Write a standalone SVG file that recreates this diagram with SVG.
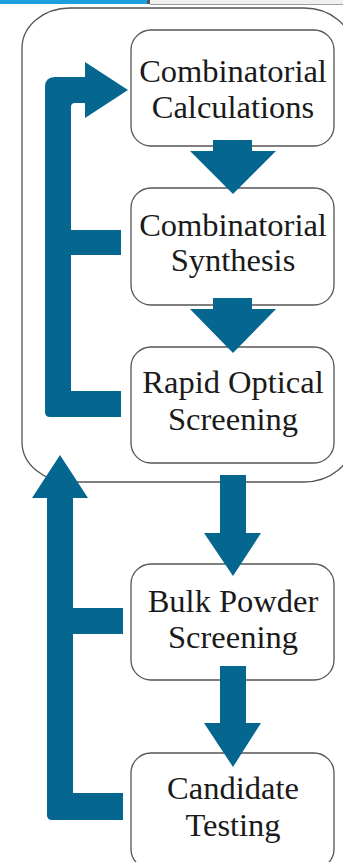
<svg xmlns="http://www.w3.org/2000/svg" width="343" height="862" viewBox="0 0 343 862">
<style>
.node rect{fill:#fff;stroke:#555;stroke-width:1.3}
.node text{font-family:"Liberation Serif","Times New Roman",serif;font-size:32.5px;fill:#1a1a1a;text-anchor:middle}
.conn path{fill:#05668f;stroke:none}
</style>
<rect x="0" y="0" width="343" height="862" fill="#fff"/>
<g id="topbar">
<rect x="0" y="0" width="148" height="4" fill="#1a9fdf"/>
<rect x="150" y="0" width="193" height="4" fill="#f0f0f0"/>
<rect x="147" y="0" width="3" height="4" fill="#555"/>
<rect x="150" y="4" width="193" height="0.8" fill="#888"/>
</g>
<g id="container">
<rect x="22" y="8" width="330" height="474" rx="48" ry="40" fill="#fff" stroke="#555" stroke-width="1.3"/>
</g>
<g id="n1" class="node">
<rect x="131" y="30" width="203" height="116" rx="20"/>
<text x="233" y="82">Combinatorial</text>
<text x="233" y="118">Calculations</text>
</g>
<g id="n2" class="node">
<rect x="131" y="188" width="203" height="117" rx="20"/>
<text x="233" y="236">Combinatorial</text>
<text x="233" y="271">Synthesis</text>
</g>
<g id="n3" class="node">
<rect x="131" y="347" width="203" height="116" rx="20"/>
<text x="233" y="393">Rapid Optical</text>
<text x="233" y="430">Screening</text>
</g>
<g id="n4" class="node">
<rect x="131" y="564" width="203" height="116" rx="20"/>
<text x="233" y="612">Bulk Powder</text>
<text x="233" y="648">Screening</text>
</g>
<g id="n5" class="node">
<rect x="131" y="753" width="203" height="116" rx="20"/>
<text x="233" y="799">Candidate</text>
<text x="233" y="836">Testing</text>
</g>
<g id="connectors" class="conn">
<path d="M213,140 H252 V151 H276 L233,194 L190,151 H213 Z"/>
<path d="M213,298 H252 V309 H276 L233,353 L190,309 H213 Z"/>
<path d="M220,475 H246 V533 H261 L233,576 L204,533 H220 Z"/>
<path d="M220,666 H246 V723 H261 L233,767 L204,723 H220 Z"/>
<path d="M128,90 L85,62 V77 H55 Q45,77 45,87 V412 Q45,417 50,417 H121 V391 H71 V255 H121 V230 H71 V107 Q71,103 75,103 H85 V118 Z"/>
<path d="M60,455 L88,498 H73 V608 H123 V634 H73 V793 H123 V820 H52 Q47,820 47,815 V498 H32 Z"/>
</g>
</svg>
